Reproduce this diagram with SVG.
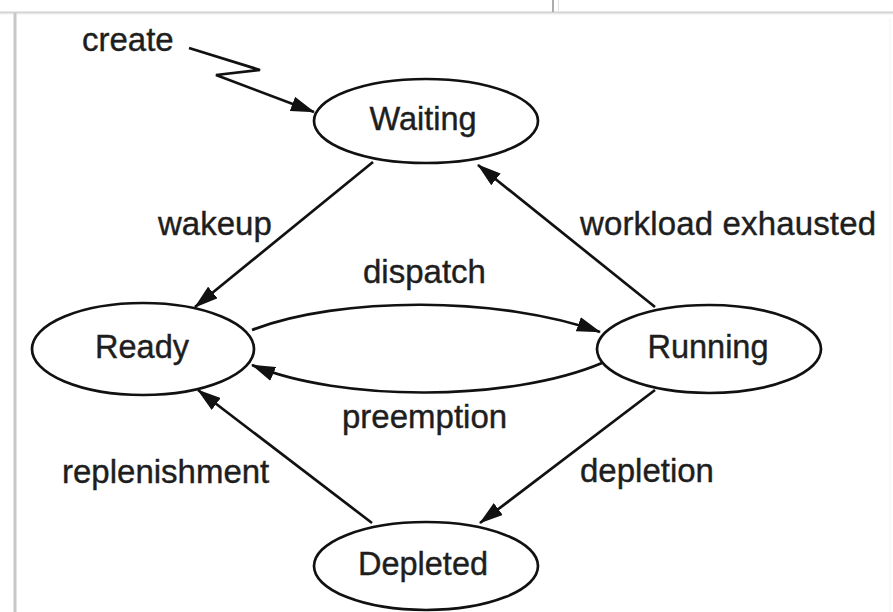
<svg xmlns="http://www.w3.org/2000/svg" width="893" height="612" viewBox="0 0 893 612">
<defs>
<marker id="ah" viewBox="0 0 24 15" refX="23" refY="7.5" markerWidth="24" markerHeight="15" orient="auto" markerUnits="userSpaceOnUse">
<path d="M0,0 L24,7.5 L0,15 z" fill="#111"/>
</marker>
<style>
.node ellipse{fill:#fff;stroke:#111;stroke-width:2.7}
.node text{font-family:"Liberation Sans",Arial,sans-serif;font-size:32.5px;fill:#1e1e1e;stroke:#1e1e1e;stroke-width:0.4;text-anchor:middle}
.lbl{font-family:"Liberation Sans",Arial,sans-serif;font-size:33px;fill:#1e1e1e;stroke:#1e1e1e;stroke-width:0.4}
#edges path,#edges polyline{fill:none;stroke:#111;stroke-width:2.7;marker-end:url(#ah)}
</style>
</defs>
<rect width="893" height="612" fill="#fff"/>
<g id="frame">
<line x1="0" y1="12.5" x2="893" y2="12.5" stroke="#d2d2d2" stroke-width="2"/>
<line x1="0" y1="14" x2="893" y2="14" stroke="#ededed" stroke-width="1"/>
<line x1="15" y1="13" x2="15" y2="612" stroke="#c8c8c8" stroke-width="3"/>
<line x1="553" y1="0" x2="553" y2="12" stroke="#adadad" stroke-width="2"/>
<line x1="558.5" y1="0" x2="558.5" y2="12" stroke="#e2e2e2" stroke-width="1"/>
<line x1="890" y1="18" x2="890" y2="612" stroke="#f2f2f2" stroke-width="1"/>
</g>
<g id="edges">
<polyline points="189,48 260,70 216,75 314,112" stroke-width="3.2"/>
<path d="M373,162 L195,307"/>
<path d="M655,307 L478,165"/>
<path d="M252,330 C340,296 500,296 600,332"/>
<path d="M602,363 C510,402 340,402 252,365"/>
<path d="M372,523 L198,390"/>
<path d="M655,390 L480,523"/>
</g>
<g id="labels">
<text class="lbl" x="82" y="51">create</text>
<text class="lbl" x="158" y="235">wakeup</text>
<text class="lbl" x="580" y="235" textLength="296">workload exhausted</text>
<text class="lbl" x="363" y="283">dispatch</text>
<text class="lbl" x="342" y="428">preemption</text>
<text class="lbl" x="62" y="483">replenishment</text>
<text class="lbl" x="580" y="482">depletion</text>
</g>
<g id="waiting" class="node"><ellipse cx="426" cy="121" rx="112" ry="42"/><text x="423" y="130">Waiting</text></g>
<g id="ready" class="node"><ellipse cx="143" cy="349" rx="111" ry="46"/><text x="142" y="358">Ready</text></g>
<g id="running" class="node"><ellipse cx="709" cy="349" rx="112" ry="44"/><text x="708" y="358">Running</text></g>
<g id="depleted" class="node"><ellipse cx="426" cy="566" rx="112" ry="44"/><text x="423" y="575">Depleted</text></g>
</svg>
